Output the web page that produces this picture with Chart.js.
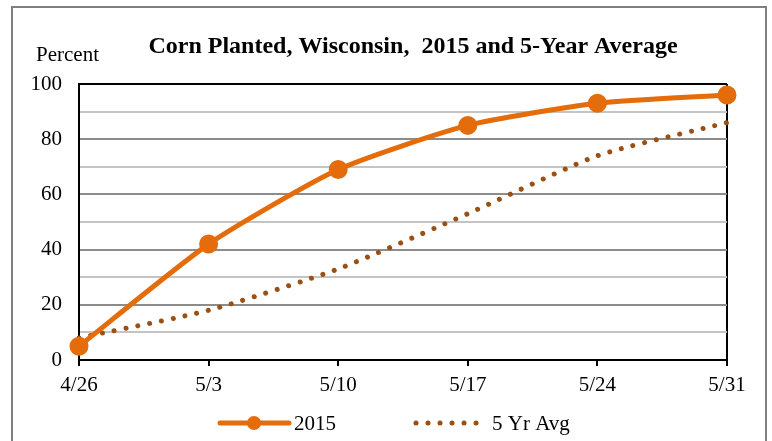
<!DOCTYPE html>
<html>
<head>
<meta charset="utf-8">
<script src="https://cdn.jsdelivr.net/npm/chart.js@4"></script>
<style>
  html, body { margin: 0; padding: 0; background: #fff; }
  #wrap { width: 772px; height: 441px; }
</style>
</head>
<body>
<div id="wrap"><canvas id="cornChart" width="772" height="441"></canvas></div>
<script>
// Data
const weekLabels = ['4/26', '5/3', '5/10', '5/17', '5/24', '5/31'];
const planted2015 = [5, 42, 69, 85, 93, 96];
const fiveYearAvg = [8, 18, 33, 53, 74, 86];

const orange = '#E46C0A';
const brown = '#9C4F12';
const serif = '"Liberation Serif", "Times New Roman", serif';

// Frame, title, "Percent" label and the legend drawn on the canvas
const decorPlugin = {
    id: 'decor',
    afterDraw(chart) {
        const {ctx} = chart;
        ctx.save();
        // outer frame
        ctx.strokeStyle = '#808080';
        ctx.lineWidth = 2;
        ctx.strokeRect(12, 7, 754, 445);

        ctx.fillStyle = '#000';
        ctx.textBaseline = 'alphabetic';
        ctx.font = 'bold 24px ' + serif;
        ctx.textAlign = 'center';
        ctx.fillText('Corn Planted, Wisconsin,  2015 and 5-Year Average', 413, 53);
        ctx.font = '21px ' + serif;
        ctx.textAlign = 'left';
        ctx.fillText('Percent', 36, 61);

        // legend
        const ds = chart.data.datasets;
        const y = 423;
        ctx.lineCap = 'round';
        ctx.strokeStyle = ds[0].borderColor;
        ctx.lineWidth = 5;
        ctx.beginPath();
        ctx.moveTo(220, y);
        ctx.lineTo(289, y);
        ctx.stroke();
        ctx.fillStyle = ds[0].pointBackgroundColor;
        ctx.beginPath();
        ctx.arc(254, y, 7, 0, 2 * Math.PI);
        ctx.fill();

        ctx.strokeStyle = ds[1].borderColor;
        ctx.setLineDash(ds[1].borderDash);
        ctx.beginPath();
        ctx.moveTo(416, y);
        ctx.lineTo(484, y);
        ctx.stroke();
        ctx.setLineDash([]);

        ctx.fillStyle = '#000';
        ctx.textBaseline = 'middle';
        ctx.font = '21px ' + serif;
        ctx.fillText(ds[0].label, 294, y + 1);
        ctx.fillText(ds[1].label, 492, y + 1);
        ctx.restore();
    }
};

new Chart(document.getElementById('cornChart').getContext('2d'), {
    type: 'line',
    data: {
        labels: weekLabels,
        datasets: [{
            label: '2015',
            data: planted2015,
            borderColor: orange,
            backgroundColor: orange,
            pointBackgroundColor: orange,
            pointBorderColor: orange,
            borderWidth: 5,
            pointRadius: 7,
            tension: 0.2
        }, {
            label: '5 Yr Avg',
            data: fiveYearAvg,
            borderColor: brown,
            backgroundColor: brown,
            borderWidth: 5,
            borderDash: [0.01, 12],
            borderCapStyle: 'round',
            pointRadius: 0,
            tension: 0.2
        }]
    },
    options: {
        responsive: false,
        animation: false,
        layout: { padding: { top: 84, right: 45, bottom: 0, left: 0 } },
        plugins: {
            legend: { display: false },
            title: { display: false },
            tooltip: { enabled: false }
        },
        scales: {
            x: {
                offset: false,
                afterFit(scale) { scale.height = 81; },
                border: { color: '#000', width: 2 },
                grid: {
                    color: (c) => c.index === weekLabels.length - 1 ? '#000' : 'rgba(0,0,0,0)',
                    lineWidth: 2,
                    tickColor: '#000',
                    tickLength: 6
                },
                ticks: {
                    color: '#000',
                    font: { family: serif, size: 21 },
                    padding: 7,
                    maxRotation: 0,
                    autoSkip: false
                }
            },
            y: {
                min: 0,
                max: 100,
                afterFit(scale) { scale.width = 79; },
                border: { color: '#000', width: 2 },
                grid: {
                    color: (c) => {
                        const v = c.tick.value;
                        if (v === 100) return '#000';
                        if (v === 0) return 'rgba(0,0,0,0)';
                        return v % 20 === 0 ? '#8c8c8c' : '#c4c4c4';
                    },
                    lineWidth: 2,
                    drawTicks: false
                },
                ticks: {
                    stepSize: 10,
                    autoSkip: false,
                    color: '#000',
                    padding: 17,
                    font: { family: serif, size: 21 },
                    callback: (v) => v % 20 === 0 ? v : ''
                }
            }
        }
    },
    plugins: [decorPlugin]
});
</script>
</body>
</html>
